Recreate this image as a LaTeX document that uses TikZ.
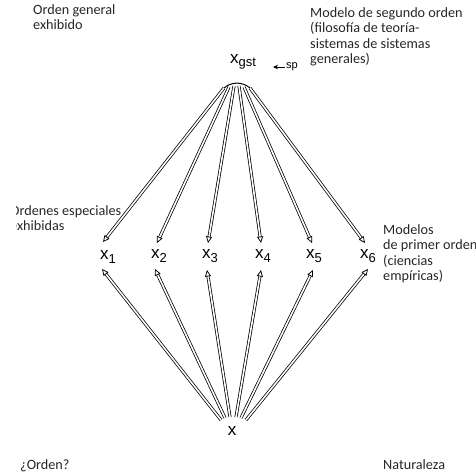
\documentclass[tikz,border=0pt]{standalone}
\usepackage{fontspec}
\setmainfont{Carlito}
\newfontfamily\xfont{Liberation Sans}
\usetikzlibrary{arrows.meta}
\tikzset{
  lbl/.style={anchor=north west, inner sep=0pt, align=left, font=\fontsize{14.2}{15.6}\selectfont, text=black!85},
  xn/.style={inner sep=1pt, font=\xfont\fontsize{17}{18}\selectfont},
  dbl/.style={draw=black, double=white, double distance=1.6pt, line width=0.75pt,
    -{Stealth[open,length=6.5pt,width=6pt,inset=0pt]}},
}
\newcommand{\xsub}[1]{x\raisebox{-0.35ex}{\fontsize{13}{14}\selectfont #1}}
\begin{document}
\begin{tikzpicture}[x=1pt,y=-1pt]
\useasboundingbox (0,0) rectangle (476,474);
% labels
\node[lbl] (lg) at (33,4) {Orden general\\exhibido};
\node[lbl] (ls) at (310,7) {Modelo de segundo orden\\(filosofía de teoría-\\sistemas de sistemas\\generales)};
\begin{scope}
\clip (16,195) rectangle (160,240);
\node[lbl] (le) at (10,205) {Ordenes especiales\\exhibidas};
\end{scope}
\node[lbl] (lp) at (383,224) {Modelos\\de primer orden\\(ciencias\\empíricas)};
\node[lbl] (lo) at (20,459) {¿Orden?};
\node[lbl] (ln) at (383,459) {Naturaleza};
% x nodes
\node[xn] (xg) at (243,62) {\xsub{gst}};
\node[inner sep=1pt, font=\xfont\fontsize{11}{12}\selectfont, anchor=west] (sp) at (285,67) {sp};
\draw[-{Stealth[length=5pt,width=4.5pt]}, line width=1pt] (sp.west) -- ++(-12,0) coordinate (spa);
\node[xn] (x1) at (108,257) {\xsub{1}};
\node[xn] (x2) at (159,256) {\xsub{2}};
\node[xn] (x3) at (210,256) {\xsub{3}};
\node[xn] (x4) at (263,256) {\xsub{4}};
\node[xn] (x5) at (314,256) {\xsub{5}};
\node[xn] (x6) at (368,256) {\xsub{6}};
\node[xn] (x0) at (232,431) {x};
% top fan coordinates
\coordinate (t1) at (224,88);
\coordinate (t2) at (229,87);
\coordinate (t3) at (234,86);
\coordinate (t4) at (239,86);
\coordinate (t5) at (244,87);
\coordinate (t6) at (250,88);
\draw[line width=1pt] (t1) to[bend left=40] (t6);
% bottom fan coordinates
\coordinate (b1) at (221,420);
\coordinate (b2) at (225,418);
\coordinate (b3) at (230,417);
\coordinate (b4) at (236,417);
\coordinate (b5) at (241,418);
\coordinate (b6) at (246,420);
% arrows top -> x_i
\draw[dbl] (t1) -- (103,242);
\draw[dbl] (t2) -- (157,243);
\draw[dbl] (t3) -- (208,243);
\draw[dbl] (t4) -- (261,243);
\draw[dbl] (t5) -- (312,243);
\draw[dbl] (t6) -- (365,243);
% arrows bottom -> x_i
\draw[dbl] (b1) -- (102,269);
\draw[dbl] (b2) -- (155,269);
\draw[dbl] (b3) -- (207,270);
\draw[dbl] (b4) -- (261,270);
\draw[dbl] (b5) -- (313,270);
\draw[dbl] (b6) -- (368,269);
\end{tikzpicture}
\end{document}
